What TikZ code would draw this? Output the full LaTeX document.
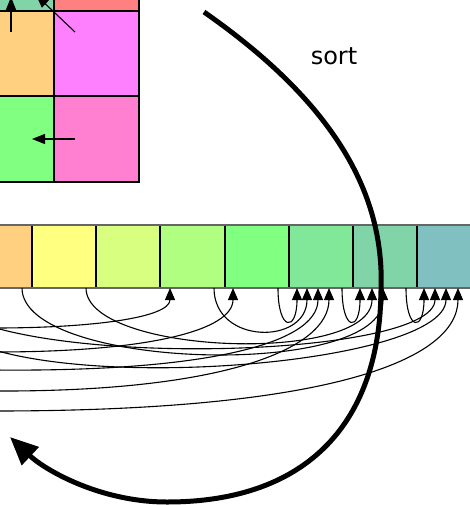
\documentclass[tikz,border=0pt]{standalone}
\usepackage{fontspec}
\setmainfont{DejaVu Sans}
\usetikzlibrary{arrows.meta}
\definecolor{cTeal}{HTML}{80D4A8}
\definecolor{cSalmon}{HTML}{FF8080}
\definecolor{cOrange}{HTML}{FFD080}
\definecolor{cMagenta}{HTML}{FF80FF}
\definecolor{cGreen}{HTML}{80FF80}
\definecolor{cPink}{HTML}{FF80D0}
\definecolor{cYellow}{HTML}{FFFF80}
\definecolor{cLime}{HTML}{D8FF80}
\definecolor{cLeaf}{HTML}{B0FF80}
\definecolor{cMint}{HTML}{80E898}
\definecolor{cSea}{HTML}{80C0C0}
\definecolor{cBorder}{HTML}{666666}
\begin{document}
\begin{tikzpicture}[x=1pt,y=-1pt,
  gridcell/.style={draw=black,line width=1.1pt},
  garrow/.style={line width=1.1pt,-{Triangle[length=13pt,width=10pt]}},
  flow/.style={line width=1.1pt,-{Triangle[length=12pt,width=10pt]}},
  sortarrow/.style={line width=5pt,-{Triangle[length=28pt,width=24pt]}},
  divider/.style={draw=black,line width=1.1pt},
  rim/.style={draw=cBorder,line width=1.8pt}]
\useasboundingbox (0,0) rectangle (470,505);
\clip (0,0) rectangle (470,505);
% grid
\filldraw[gridcell,fill=cTeal] (-31,-74) rectangle (54,11);
\filldraw[gridcell,fill=cSalmon] (54,-74) rectangle (139,11);
\filldraw[gridcell,fill=cOrange] (-31,11) rectangle (54,96);
\filldraw[gridcell,fill=cMagenta] (54,11) rectangle (139,96);
\filldraw[gridcell,fill=cGreen] (-31,96) rectangle (54,182);
\filldraw[gridcell,fill=cPink] (54,96) rectangle (139,182);
\coordinate (ga) at (11,32); \coordinate (gae) at (11,-3);
\coordinate (gb) at (75,32); \coordinate (gbe) at (36,-5);
\coordinate (gc) at (75,139); \coordinate (gce) at (32,139);
\draw[garrow] (ga) -- (gae);
\draw[garrow] (gb) -- (gbe);
\draw[garrow] (gc) -- (gce);
% strip
\fill[cOrange] (-40,225) rectangle (32,288);
\fill[cYellow] (32,225) rectangle (96,288);
\fill[cLime] (96,225) rectangle (160,288);
\fill[cLeaf] (160,225) rectangle (225,288);
\fill[cGreen] (225,225) rectangle (289,288);
\fill[cMint] (289,225) rectangle (353,288);
\fill[cTeal] (353,225) rectangle (417,288);
\fill[cSea] (417,225) rectangle (480,288);
\foreach \x in {32,96,160,225,289,353,417} \draw[divider] (\x,225) -- (\x,288);
\draw[rim] (-40,225) -- (480,225);
\draw[rim] (-40,288) -- (480,288);
% sources and targets
\coordinate (s1) at (22,288); \coordinate (s2) at (86,288);
\coordinate (s3) at (214,288); \coordinate (s4) at (278,288);
\coordinate (s5) at (342,288); \coordinate (s6) at (406,288);
\coordinate (e1) at (170,288); \coordinate (e2) at (233,288);
\coordinate (e3) at (297,288); \coordinate (e4) at (307,288);
\coordinate (e5) at (318,288); \coordinate (e6) at (329,288);
\coordinate (e7) at (360,288); \coordinate (e8) at (372,288);
\coordinate (e9) at (383,288); \coordinate (e10) at (424,288);
\coordinate (e11) at (435,288); \coordinate (e12) at (446,288);
\coordinate (e13) at (458,288);
\coordinate (l1) at (-5,328); \coordinate (l2) at (-60,300);
\coordinate (l3) at (-5,370); \coordinate (l4) at (-60,320);
\coordinate (l5) at (-5,391); \coordinate (l6) at (-5,411);
\coordinate (l7) at (-5,352);
\draw[flow] (s1) .. controls (22,370) and (383,380) .. (e9);
\draw[flow] (s2) .. controls (86,355) and (372,365) .. (e8);
\draw[flow] (s3) .. controls (214,345) and (307,345) .. (e4);
\draw[flow] (s4) .. controls (278,332) and (297,332) .. (e3);
\draw[flow] (s5) .. controls (342,332) and (360,332) .. (e7);
\draw[flow] (s6) .. controls (406,332) and (424,332) .. (e10);
\draw[flow] (l1) .. controls (90,328) and (170,318) .. (e1);
\draw[flow] (l7) .. controls (150,352) and (233,330) .. (e2);
\draw[flow] (l3) .. controls (200,372) and (318,345) .. (e5);
\draw[flow] (l5) .. controls (220,392) and (329,350) .. (e6);
\draw[flow] (l2) .. controls (0,370) and (435,360) .. (e11);
\draw[flow] (l4) .. controls (0,400) and (446,370) .. (e12);
\draw[flow] (l6) .. controls (330,411) and (458,360) .. (e13);
% sort arrow
\coordinate (sa) at (204,12); \coordinate (sb) at (381,290);
\coordinate (sc) at (167,502); \coordinate (sd) at (10,437);
\draw[sortarrow] (sa) .. controls (330,100) and (385,190) .. (sb)
  .. controls (380,420) and (310,502) .. (sc)
  .. controls (100,502) and (45,470) .. (sd);
\node[font=\fontsize{24}{28}\selectfont] (sortlabel) at (334,56) {sort};
\end{tikzpicture}
\end{document}
